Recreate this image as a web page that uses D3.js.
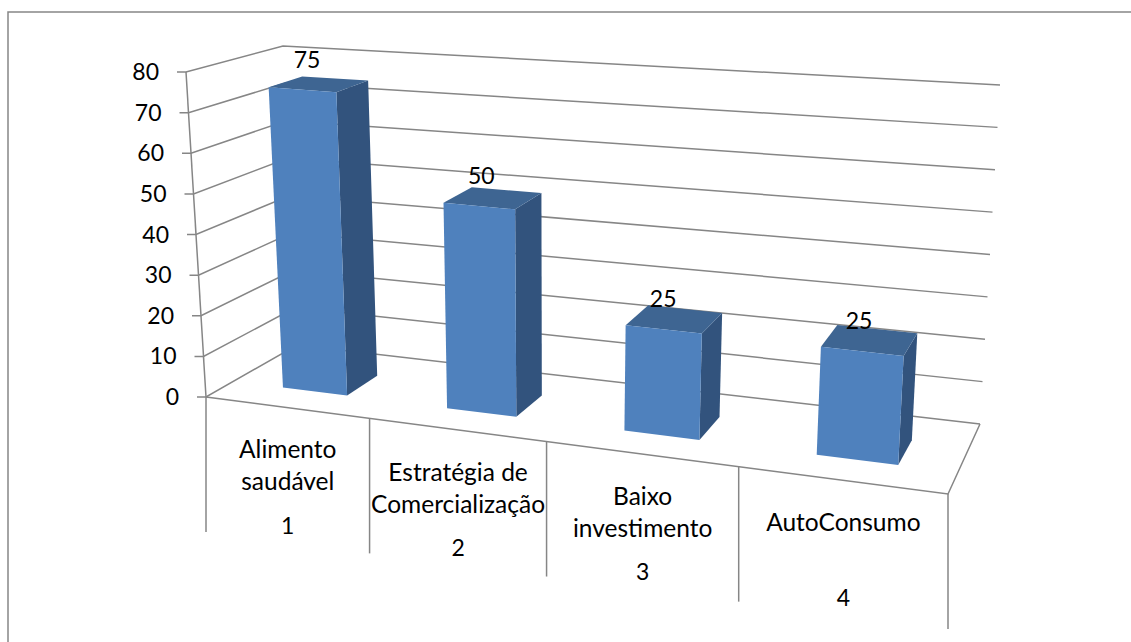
<!DOCTYPE html>
<html>
<head>
<meta charset="utf-8">
<script src="https://cdn.jsdelivr.net/npm/d3@7"></script>
<style>
  body { margin: 0; background: #fff; }
  text { font-family: Lato, "Open Sans", sans-serif; fill: #000; }
</style>
</head>
<body>
<div id="vis"></div>
<script>
// chart data
const CATEGORY_LINES = [["Alimento", "saudável"], ["Estratégia de", "Comercialização"], ["Baixo", "investimento"], ["AutoConsumo"]];
const CATEGORY_NUMBERS = ["1", "2", "3", "4"];
const VALUES = [75, 50, 25, 25];
const VALUE_TICKS = [0, 10, 20, 30, 40, 50, 60, 70, 80];

const FRAME_WIDTH = 1131;
const FRAME_HEIGHT = 642;
const GRID_COLOR = "#868686";
const FRONT_COLOR = "#4f81bd";
const SIDE_COLOR = "#32537d";
const TOP_COLOR = "#3e6592";
const NUMBER_SIZE = 23;
const LABEL_SIZE = 24.5;

// corners of the floor on screen: front left, front right, back right, back left
const FLOOR = [[206, 397], [948, 494], [980, 424], [297, 345]];
// how far the top of the axis sits from each floor corner, same order
const RISE = [[-20, -325], [20, -356], [20, -339], [-14, -299]];

// maps the unit square on the floor quad, so the perspective stays right
function quadMap(q) {
  const [[x0, y0], [x1, y1], [x2, y2], [x3, y3]] = q;
  const dx1 = x1 - x2, dx2 = x3 - x2, sx = x0 - x1 + x2 - x3;
  const dy1 = y1 - y2, dy2 = y3 - y2, sy = y0 - y1 + y2 - y3;
  const det = dx1 * dy2 - dx2 * dy1;
  const g = (sx * dy2 - dx2 * sy) / det;
  const h = (dx1 * sy - sx * dy1) / det;
  const a = x1 - x0 + g * x1, b = x3 - x0 + h * x3;
  const d = y1 - y0 + g * y1, e = y3 - y0 + h * y3;
  return (u, w) => {
    const z = g * u + h * w + 1;
    return [(a * u + b * w + x0) / z, (d * u + e * w + y0) / z];
  };
}

const floorMap = quadMap(FLOOR);

const Y_SCALE = d3.scaleLinear().domain([0, 80]).range([0, 1]);
const X_SCALE = d3.scaleBand()
                  .domain(CATEGORY_NUMBERS)
                  .range([0.004, 1.004])
                  .paddingInner(0.6)
                  .paddingOuter(0.3);
const STEP = X_SCALE.step();
const DEPTH_SCALE = d3.scaleLinear().domain([0, 1]).range([0.285, 0.645]);
// value labels drift a little from the bar centre, right on the left bars
const LABEL_DRIFT = d3.scaleLinear().domain([0, 1]).range([6, -4]);

// u = across, w = depth, v = chart value
function project(u, w, v) {
  const base = floorMap(u, w), t = Y_SCALE(v);
  const rise = d3.interpolate(
    d3.interpolate(RISE[0], RISE[1])(u),
    d3.interpolate(RISE[3], RISE[2])(u)
  )(w);
  return [base[0] + rise[0] * t, base[1] + rise[1] * t];
}

const FRAME = d3.select("#vis")
                .append("svg")
                  .attr("width", FRAME_WIDTH)
                  .attr("height", FRAME_HEIGHT)
                  .style("display", "block");

// outer border, only top and left show in the picture
FRAME.append("path")
      .attr("d", "M8," + FRAME_HEIGHT + "V12H" + FRAME_WIDTH)
      .attr("fill", "none")
      .attr("stroke", GRID_COLOR)
      .attr("stroke-width", 1.5);

const line = d3.line();

function gridPath(points) {
  FRAME.append("path")
        .attr("d", line(points))
        .attr("fill", "none")
        .attr("stroke", GRID_COLOR)
        .attr("stroke-width", 1.5);
}

// walls and value ticks
VALUE_TICKS.forEach((v) => {
  const front = project(0, 0, v);
  gridPath([[front[0] - 9, front[1]], front, project(0, 1, v), project(1, 1, v)]);
  FRAME.append("text")
        .attr("x", front[0] - 27)
        .attr("y", front[1])
        .attr("dy", "0.35em")
        .attr("text-anchor", "end")
        .attr("font-size", NUMBER_SIZE)
        .text(v);
});

// the axis itself
gridPath([project(0, 0, 0), project(0, 0, 80)]);

// floor outline and the category separators
gridPath([project(0, 0, 0), project(1, 0, 0), project(1, 1, 0)]);
d3.range(CATEGORY_NUMBERS.length + 1).forEach((i) => {
  const p = project(i * STEP, 0, 0);
  gridPath([p, [p[0], p[1] + 135]]);
});

// category labels
CATEGORY_NUMBERS.forEach((num, i) => {
  const a = project(i * STEP, 0, 0), b = project((i + 1) * STEP, 0, 0);
  const cx = (a[0] + b[0]) / 2, cy = (a[1] + b[1]) / 2;
  CATEGORY_LINES[i].forEach((txt, j) => {
    FRAME.append("text")
          .attr("x", cx)
          .attr("y", cy + 42 + j * 32)
          .attr("dy", "0.35em")
          .attr("text-anchor", "middle")
          .attr("font-size", LABEL_SIZE)
          .text(txt);
  });
  FRAME.append("text")
        .attr("x", cx)
        .attr("y", cy + 118)
        .attr("dy", "0.35em")
        .attr("text-anchor", "middle")
        .attr("font-size", NUMBER_SIZE)
        .text(num);
});

// bars
const BARS = FRAME.selectAll("g.bar")
                  .data(VALUES)
                  .enter()
                  .append("g")
                    .attr("class", "bar");

function face(color, corners) {
  BARS.append("path")
      .attr("fill", color)
      .attr("d", (d, i) => {
        const u0 = X_SCALE(CATEGORY_NUMBERS[i]);
        const u1 = u0 + X_SCALE.bandwidth();
        return line(corners(u0, u1, DEPTH_SCALE(0), DEPTH_SCALE(1), d)) + "Z";
      });
}

face(SIDE_COLOR, (u0, u1, w0, w1, d) => [project(u1, w0, 0), project(u1, w1, 0), project(u1, w1, d), project(u1, w0, d)]);
face(TOP_COLOR, (u0, u1, w0, w1, d) => [project(u0, w0, d), project(u1, w0, d), project(u1, w1, d), project(u0, w1, d)]);
face(FRONT_COLOR, (u0, u1, w0, w1, d) => [project(u0, w0, 0), project(u1, w0, 0), project(u1, w0, d), project(u0, w0, d)]);

// value labels, on top of the bars
function barCentre(d, i) {
  return X_SCALE(CATEGORY_NUMBERS[i]) + X_SCALE.bandwidth() / 2;
}

BARS.append("text")
    .attr("x", (d, i) => project(barCentre(d, i), DEPTH_SCALE(0), d)[0] + LABEL_DRIFT(barCentre(d, i)))
    .attr("y", (d, i) => project(barCentre(d, i), DEPTH_SCALE(0), d)[1] - 30)
    .attr("dy", "0.35em")
    .attr("text-anchor", "middle")
    .attr("font-size", NUMBER_SIZE)
    .text((d) => d);
</script>
</body>
</html>
